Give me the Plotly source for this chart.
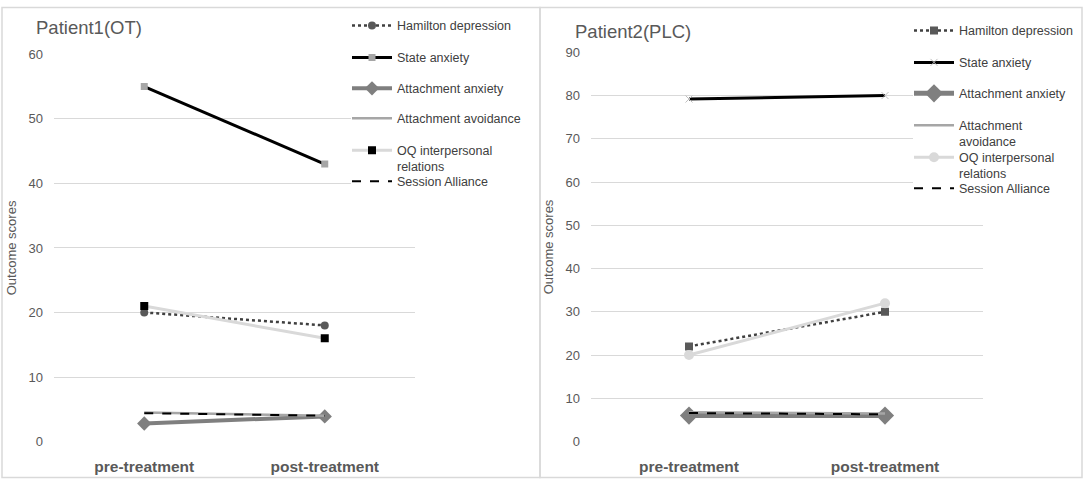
import plotly.graph_objects as go

phases = ["pre-treatment", "post-treatment"]

# Patient 1 (OT)
p1_hamilton = [20, 18]
p1_state_anx = [55, 43]
p1_attach_anx = [2.8, 3.9]
p1_attach_avoid = [4.5, 4]
p1_oq = [21, 16]
p1_alliance = [4.4, 4]

# Patient 2 (PLC)
p2_hamilton = [22, 30]
p2_state_anx = [79.2, 80]
p2_attach_anx = [6, 6]
p2_attach_avoid = [6.8, 6.5]
p2_oq = [20, 32]
p2_alliance = [6.6, 6.3]

names1 = ["Hamilton depression", "State anxiety", "Attachment anxiety",
          "Attachment avoidance", "OQ interpersonal<br>relations", "Session Alliance"]
names2 = ["Hamilton depression", "State anxiety", "Attachment anxiety",
          "Attachment<br>avoidance", "OQ interpersonal<br>relations", "Session Alliance"]

W, H = 1084, 486
FONT = "Liberation Sans"
GREY_TXT = "#595959"
GRID = "#d9d9d9"

# pixel boxes of the two plot areas: (left, right, top, bottom, ymax)
PANELS = [(54, 415, 54, 442, 60), (591, 983, 52, 442, 90)]


def ypos(r):
    # the photographed page comes out slightly squeezed vertically, so map
    # the wanted screen row back to a figure row
    d = (r - 6.6) / 0.971
    d = min(max(d, 0.5), H - 0.5)
    return 1 - d / H


def add_patient(fig, xa, ya, first_leg, vals, names, styles):
    for i, (v, n, st) in enumerate(zip(vals, names, styles)):
        k = first_leg + i
        fig.add_trace(go.Scatter(
            x=phases, y=v, name=n, xaxis=xa, yaxis=ya,
            mode=st.get("mode", "lines+markers"),
            line=st["line"], marker=st.get("marker", {}),
            legend="legend" if k == 1 else "legend%d" % k,
            showlegend=True, hoverinfo="skip"
        ))


fig = go.Figure()

styles1 = [
    dict(line=dict(color="#404040", width=2.5, dash="dot"),
         marker=dict(symbol="circle", size=8, color="#595959")),
    dict(line=dict(color="black", width=3),
         marker=dict(symbol="square", size=7, color="#a6a6a6")),
    dict(line=dict(color="#7f7f7f", width=4),
         marker=dict(symbol="diamond", size=11, color="#7f7f7f")),
    dict(mode="lines", line=dict(color="#a6a6a6", width=2.5)),
    dict(line=dict(color="#d9d9d9", width=3),
         marker=dict(symbol="square", size=8, color="black")),
    dict(mode="lines", line=dict(color="black", width=2, dash="dash")),
]
add_patient(fig, "x", "y", 1,
            [p1_hamilton, p1_state_anx, p1_attach_anx, p1_attach_avoid, p1_oq, p1_alliance],
            names1, styles1)

styles2 = [
    dict(line=dict(color="#404040", width=2.5, dash="dot"),
         marker=dict(symbol="square", size=8, color="#595959")),
    dict(line=dict(color="black", width=3),
         marker=dict(symbol="x-thin", size=7, color="#bfbfbf",
                     line=dict(width=1, color="#bfbfbf"))),
    dict(line=dict(color="#7f7f7f", width=5),
         marker=dict(symbol="diamond", size=14, color="#7f7f7f")),
    dict(mode="lines", line=dict(color="#a6a6a6", width=2.5)),
    dict(line=dict(color="#d9d9d9", width=3),
         marker=dict(symbol="circle", size=10, color="#d9d9d9")),
    dict(mode="lines", line=dict(color="black", width=2, dash="dash")),
]
add_patient(fig, "x2", "y2", 7,
            [p2_hamilton, p2_state_anx, p2_attach_anx, p2_attach_avoid, p2_oq, p2_alliance],
            names2, styles2)

xcommon = dict(type="category", range=[-0.5, 1.5], showgrid=False, showline=False,
               zeroline=False, ticks="", ticklabelstandoff=14,
               tickfont=dict(family=FONT, size=15.5, color=GREY_TXT, weight="bold"))
ycommon = dict(showgrid=True, gridcolor=GRID, gridwidth=1, zeroline=False,
               showline=False, ticks="", dtick=10, ticklabelstandoff=10,
               tickfont=dict(family=FONT, size=13, color=GREY_TXT),
               title=dict(text="Outcome scores", font=dict(family=FONT, size=13, color=GREY_TXT),
                          standoff=8))

legcommon = dict(font=dict(family=FONT, size=12.5, color="#404040"), bgcolor="rgba(0,0,0,0)",
                 borderwidth=0, itemwidth=40, yanchor="top", xanchor="left",
                 valign="top", itemclick=False, itemdoubleclick=False, visible=True)

# legend rows (screen y of each symbol) for both panels, and number of text lines
leg_rows1 = [25, 57, 88, 118, 150, 181]
leg_rows2 = [30, 62, 93, 125, 157, 188]
lines1 = [1, 1, 1, 1, 2, 1]
lines2 = [1, 1, 1, 2, 2, 1]

legends = {}
for i, r in enumerate(leg_rows1 + leg_rows2):
    key = "legend" if i == 0 else "legend%d" % (i + 1)
    xl = 347 if i < 6 else 909
    legends[key] = dict(legcommon, x=xl / W, y=ypos(r) + 15 / H)

# white patches behind each legend entry so gridlines stop there (Excel-style)
masks = []
for (x0, x1, top, bot, ymax), rows, nl, xa, ya, sx in [
        (PANELS[0], leg_rows1, lines1, "x", "y", 351),
        (PANELS[1], leg_rows2, lines2, "x2", "y2", 913)]:
    def dx(px):
        return -0.5 + (px - x0) / (x1 - x0) * 2

    def dy(py):
        return (bot - py) / (bot - top) * ymax

    for r, n in zip(rows, nl):
        masks.append(dict(
            type="rect", xref=xa, yref=ya, layer="between",
            x0=dx(sx), x1=dx(x1 + 2),
            y0=dy(r + 7 + 17 * (n - 1)), y1=dy(r - 7),
            fillcolor="white", line=dict(width=0)))

fig.update_layout(
    width=W, height=H,
    margin=dict(l=0, r=0, t=0, b=0),
    paper_bgcolor="white", plot_bgcolor="white",
    showlegend=True,
    xaxis=dict(xcommon, domain=[PANELS[0][0] / W, PANELS[0][1] / W], anchor="y"),
    yaxis=dict(ycommon, domain=[ypos(PANELS[0][3]), ypos(PANELS[0][2])], range=[0, 60], anchor="x"),
    xaxis2=dict(xcommon, domain=[PANELS[1][0] / W, PANELS[1][1] / W], anchor="y2"),
    yaxis2=dict(ycommon, domain=[ypos(PANELS[1][3]), ypos(PANELS[1][2])], range=[0, 90], anchor="x2"),
    shapes=[
        dict(type="rect", xref="paper", yref="paper", x0=2 / W, x1=540 / W,
             y0=ypos(482), y1=ypos(2), line=dict(color=GRID, width=1.5)),
        dict(type="rect", xref="paper", yref="paper", x0=540 / W, x1=1082 / W,
             y0=ypos(482), y1=ypos(2), line=dict(color=GRID, width=1.5)),
    ] + masks,
    annotations=[
        dict(text="Patient1(OT)", xref="paper", yref="paper", x=34 / W, y=ypos(27),
             xanchor="left", yanchor="middle", showarrow=False,
             font=dict(family=FONT, size=18.5, color=GREY_TXT)),
        dict(text="Patient2(PLC)", xref="paper", yref="paper", x=573 / W, y=ypos(31),
             xanchor="left", yanchor="middle", showarrow=False,
             font=dict(family=FONT, size=18.5, color=GREY_TXT)),
    ],
    **legends
)

# drop the default page margin so the 1084x486 figure fills the window exactly
fig.write_html("out.html", config={"displayModeBar": False, "responsive": False},
               post_script="document.body.style.margin='0';")
